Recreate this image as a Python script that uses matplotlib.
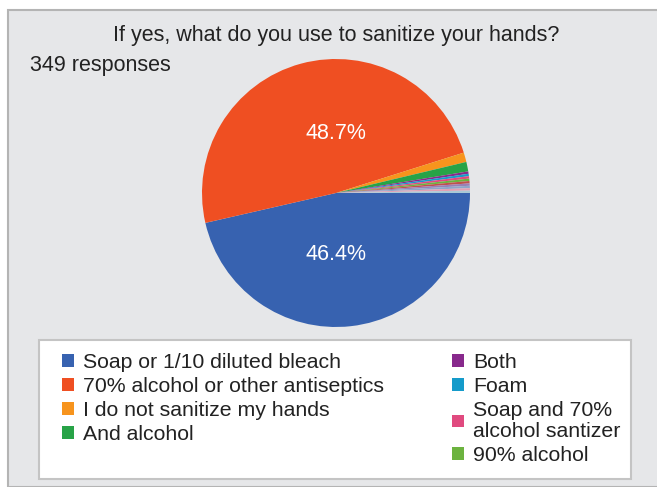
import matplotlib.pyplot as plt
from matplotlib.patches import Patch, Rectangle

plt.rcParams['font.family'] = ['Liberation Sans', 'DejaVu Sans']

# answers shown in the legend (counts out of 349)
labels = ['Soap or 1/10 diluted bleach', '70% alcohol or other antiseptics',
          'I do not sanitize my hands', 'And alcohol',
          'Both', 'Foam', 'Soap and 70%\nalcohol santizer', '90% alcohol']
counts = [162, 170, 4, 4, 1, 1, 1, 1]
colors = ['#3762b0', '#ef4f22', '#f7941d', '#27a347',
          '#88298c', '#159bca', '#e04a7f', '#6cb33f']
# single answers not listed in the legend
extra_counts = [1, 1, 1, 1, 1]
extra_colors = ['#c0504d', '#9a7fb5', '#8fa5c9', '#e3a0b4', '#a9c9d6']

W, H = 657, 487
fig = plt.figure(figsize=(W / 100, H / 100), dpi=100)
fig.patch.set_facecolor('white')

# gray panel
fig.add_artist(Rectangle((8 / W, 0), 1, 1 - 10 / H, transform=fig.transFigure,
                         facecolor='#e6e7e9', edgecolor='#b4b4b4', lw=1.5,
                         zorder=-10))
# legend box
fig.add_artist(Rectangle((39 / W, (H - 479) / H), (631 - 39) / W, (479 - 340) / H,
                         transform=fig.transFigure, facecolor='white',
                         edgecolor='#c4c4c4', lw=1.5, zorder=-9))

fig.text(336 / W, 1 - 35 / H, 'If yes, what do you use to sanitize your hands?',
         ha='center', va='center', fontsize=15.5, color='#222222')
fig.text(30 / W, 1 - 65 / H, '349 responses', ha='left', va='center',
         fontsize=15.5, color='#222222')

cx, cy, r = 336, 193, 134
ax = fig.add_axes([(cx - r) / W, (H - cy - r) / H, 2 * r / W, 2 * r / H])
vals = counts + extra_counts
wedges, _, pcts = ax.pie(vals, colors=colors + extra_colors, startangle=0,
                         counterclock=False, radius=1,
                         autopct=lambda p: f'{p:.1f}%' if p > 5 else '',
                         pctdistance=0.46,
                         wedgeprops=dict(linewidth=0),
                         textprops=dict(color='white', fontsize=15.5))
# google charts puts the two big labels straight above/below the centre
for t in pcts:
    if t.get_text():
        t.set_x(0)
ax.set_xlim(-1, 1)
ax.set_ylim(-1, 1)
ax.set_aspect('equal')
ax.axis('off')

handles = [Patch(facecolor=c, edgecolor='none') for c in colors]
kw = dict(frameon=False, fontsize=15.3, handlelength=0.55, handleheight=0.55,
          handletextpad=0.45, labelspacing=0.24, borderpad=0, borderaxespad=0,
          loc='upper left')
leg1 = fig.legend(handles[:4], labels[:4], bbox_to_anchor=(62 / W, 1 - 353 / H), **kw)
leg2 = fig.legend(handles[4:], labels[4:], bbox_to_anchor=(452 / W, 1 - 353 / H), **kw)
for t in leg1.get_texts() + leg2.get_texts():
    t.set_color('#222222')
    t.set_linespacing(1.12)

fig.savefig('out.png', dpi=100)
